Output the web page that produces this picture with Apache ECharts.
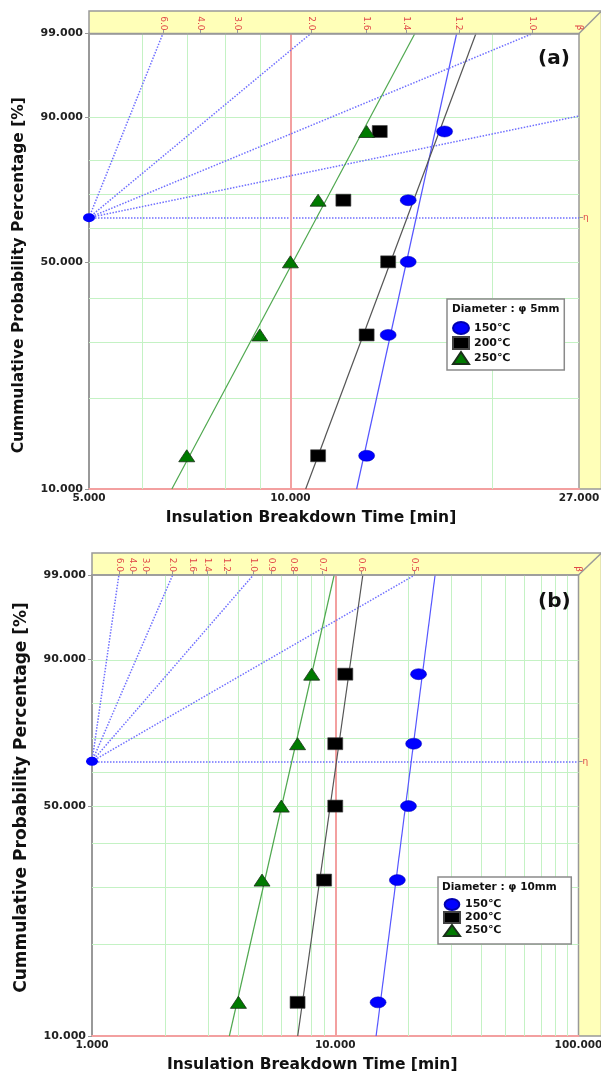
<!DOCTYPE html>
<html><head><meta charset="utf-8">
<script src="https://cdn.jsdelivr.net/npm/echarts@6/dist/echarts.min.js"></script>
<style>html,body{margin:0;padding:0;background:#fff}#c{width:601px;height:1081px}</style>
</head><body><div id="c"></div>
<script>
// ---------------- data ----------------
const ranks = [12.96, 31.48, 50.0, 68.52, 87.04];      // median ranks, %
const tempLabels = ['150℃', '200℃', '250℃'];
// panel (a)  φ 5 mm
const a150 = [13.0, 14.0, 15.0, 15.0, 17.0];
const a200 = [11.0, 13.0, 14.0, 12.0, 13.6];
const a250 = [7.0, 9.0, 10.0, 11.0, 13.0];
const aFit150 = [12.56, 17.72];   // time at 10 % and 99 %
const aFit200 = [10.54, 18.94];
const aFit250 = [6.65, 15.35];
// panel (b)  φ 10 mm
const b150 = [15.0, 18.0, 20.0, 21.0, 22.0];
const b200 = [7.0, 9.0, 10.0, 10.0, 11.0];
const b250 = [4.0, 5.0, 6.0, 7.0, 8.0];
const bFit150 = [14.72, 25.73];
const bFit200 = [7.01, 12.98];
const bFit250 = [3.67, 9.9];
const fitF = [10, 99];
// axes
const xTicksA = [5, 10, 27];
const xTicksB = [1, 10, 100];
const xGridA = [6, 7, 8, 9, 20];
const xGridB = [2, 3, 4, 5, 6, 7, 8, 9, 20, 30, 40, 50, 60, 70, 80, 90];
const yTicks = [10, 50, 90, 99];
const yGrid = [20, 30, 40, 50, 60, 70, 80, 90];
const betaTicks = [6.0, 4.0, 3.0, 2.0, 1.6, 1.4, 1.2, 1.0, 0.9, 0.8, 0.7, 0.6, 0.5];
const betaLines = [6.0, 2.0, 1.0, 0.5];
const refTime = 10;
const legendTitles = ['Diameter : φ 5mm', 'Diameter : φ 10mm'];
const panelTags = ['(a)', '(b)'];

// ---------------- helpers ----------------
const FONT = 'DejaVu Sans';
const Wb = F => Math.log(-Math.log(1 - F / 100));
const Finv = v => 100 * (1 - Math.exp(-Math.exp(v)));
const Y_TOP = Wb(99), Y_BOT = Wb(10);
const GREEN = '#c4f2c4', RED = '#f3a0a0', DOT = '#6f6fff', FRAME = '#999999', YEL = '#ffffb8';
const ELLIPSE = 'path://M0,6A8,6 0 1,0 16,6A8,6 0 1,0 0,6Z';
const mk = [
  {symbol: ELLIPSE, size: [16, 11], item: {color: '#0000ff', borderColor: '#0000b0', borderWidth: 0.5, opacity: 1}, line: '#5555ff'},
  {symbol: 'rect', size: [15, 12], item: {color: '#000000', borderColor: '#444', borderWidth: 0.6, opacity: 1}, line: '#555555'},
  {symbol: 'triangle', size: [16, 12], item: {color: '#007a00', borderColor: '#1a301a', borderWidth: 0.8, opacity: 1}, line: '#4fa84f'}
];

const panels = [
  {L: 89, T: 33.5, R: 579, B: 489, Tb: 11, xmin: 5, xmax: 27, xticks: xTicksA, xgrid: xGridA,
   vals: [a150, a200, a250], fits: [aFit150, aFit200, aFit250], tag: 'a',
   legend: {left: 447, top: 299, padding: [22, 54, 5, 5], ih: 12, gap: 1}, ltitle: {left: 452, top: 304},
   ptag: {left: 538, top: 49}, yNamePad: [0, 28, 0, 0], yNameSize: 15.5},
  {L: 92, T: 575, R: 578.5, B: 1036, Tb: 553, xmin: 1, xmax: 100, xticks: xTicksB, xgrid: xGridB,
   vals: [b150, b200, b250], fits: [bFit150, bFit200, bFit250], tag: 'b',
   legend: {left: 438, top: 877, padding: [21, 70, 7, 5], ih: 11, gap: 0}, ltitle: {left: 442, top: 882},
   ptag: {left: 538, top: 592}, yNamePad: [0, 0, 0, 16], yNameSize: 17}
];

const grid = [], xAxis = [], yAxis = [], series = [], legend = [], title = [], graphic = [];

panels.forEach((p, g) => {
  grid.push({left: p.L, top: p.T, width: p.R - p.L, height: p.B - p.T, outerBoundsMode: 'none', containLabel: false});
  const betaPos = betaTicks.map(b => p.xmin * Math.exp(Y_TOP / b)).filter(v => v <= p.xmax * 1.000001);
  xAxis.push({
    gridIndex: g, type: 'log', logBase: 10, min: p.xmin, max: p.xmax, position: 'bottom',
    axisLine: {onZero: false, lineStyle: {color: RED, width: 2}},
    axisTick: {show: false}, splitLine: {show: false}, minorTick: {show: false}, minorSplitLine: {show: false},
    axisLabel: {customValues: p.xticks, formatter: v => Number(v).toFixed(3), fontFamily: FONT, fontWeight: 'bold',
      fontSize: 10.5, color: '#222', margin: 4, hideOverlap: false},
    name: 'Insulation Breakdown Time [min]', nameLocation: 'middle', nameGap: 21, nameMoveOverlap: false,
    nameTextStyle: {fontFamily: FONT, fontWeight: 'bold', fontSize: 15.5, color: '#111', padding: [0, 46, 0, 0]}
  });
  xAxis.push({
    gridIndex: g, type: 'log', logBase: 10, min: p.xmin, max: p.xmax, position: 'top', z: 10,
    axisLine: {onZero: false, lineStyle: {color: FRAME, width: 1.5}},
    axisTick: {show: true, customValues: betaPos, length: 4, lineStyle: {color: FRAME}},
    splitLine: {show: false},
    axisLabel: {customValues: betaPos.concat([p.xmax]), rotate: 90, margin: 3, fontFamily: FONT, fontSize: 9,
      color: '#e04848', hideOverlap: false,
      formatter: v => Math.abs(v - p.xmax) / p.xmax < 1e-6 ? 'β' : (Y_TOP / Math.log(v / p.xmin)).toFixed(1)}
  });
  yAxis.push({
    gridIndex: g, type: 'value', min: Y_BOT, max: Y_TOP, position: 'left',
    axisLine: {show: true, onZero: false, lineStyle: {color: FRAME, width: 2}},
    axisTick: {show: true, customValues: yTicks.map(Wb), length: 4, lineStyle: {color: FRAME}},
    splitLine: {show: false},
    axisLabel: {customValues: yTicks.map(Wb), formatter: v => Finv(v).toFixed(3), fontFamily: FONT, fontWeight: 'bold',
      fontSize: 11, color: '#222', margin: 6, hideOverlap: false},
    name: 'Cummulative Probability Percentage [%]', nameLocation: 'middle', nameGap: 62, nameMoveOverlap: false,
    nameTextStyle: {fontFamily: FONT, fontWeight: 'bold', fontSize: p.yNameSize, color: '#111', padding: p.yNamePad}
  });
  yAxis.push({
    gridIndex: g, type: 'value', min: Y_BOT, max: Y_TOP, position: 'right', z: 10,
    axisLine: {show: false}, splitLine: {show: false},
    axisTick: {show: true, customValues: [0], length: 4, lineStyle: {color: FRAME}},
    axisLabel: {customValues: [0], formatter: () => 'η', fontFamily: FONT, fontSize: 9, color: '#e04848', margin: 4}
  });
  const xi = 2 * g, yi = 2 * g;
  const mlData = [];
  p.xgrid.forEach(v => mlData.push({xAxis: v, lineStyle: {color: GREEN, width: 1, type: 'solid'}}));
  yGrid.forEach(F => mlData.push({yAxis: Wb(F), lineStyle: {color: GREEN, width: 1, type: 'solid'}}));
  mlData.push({yAxis: 0, lineStyle: {color: DOT, width: 1.5, type: [1.5, 1.5]}});
  mlData.push({xAxis: refTime, lineStyle: {color: RED, width: 2, type: 'solid'}});
  series.push({
    type: 'scatter', name: 'pivot' + g, xAxisIndex: xi, yAxisIndex: yi, data: [[p.xmin, 0]], clip: false,
    symbol: ELLIPSE, symbolSize: [12, 9], itemStyle: {color: '#0000ff', opacity: 1}, z: 9, silent: true,
    markLine: {silent: true, symbol: ['none', 'none'], label: {show: false}, animation: false, data: mlData}
  });
  betaLines.forEach(b => {
    let xe = p.xmin * Math.exp(Y_TOP / b), ye = Y_TOP;
    if (xe > p.xmax) { xe = p.xmax; ye = b * Math.log(p.xmax / p.xmin); }
    series.push({type: 'line', name: 'beta' + b + g, xAxisIndex: xi, yAxisIndex: yi, data: [[p.xmin, 0], [xe, ye]],
      showSymbol: false, symbol: 'none', silent: true, z: 6,
      lineStyle: {color: DOT, width: 1.5, type: [1.5, 1.5]}});
  });
  p.vals.forEach((vals, k) => {
    series.push({type: 'line', name: 'fit' + k + g, xAxisIndex: xi, yAxisIndex: yi,
      data: fitF.map((F, i) => [p.fits[k][i], Wb(F)]), showSymbol: false, symbol: 'none', silent: true, z: 7,
      lineStyle: {color: mk[k].line, width: 1.2}});
  });
  p.vals.forEach((vals, k) => {
    series.push({type: 'scatter', name: tempLabels[k] + '|' + p.tag, xAxisIndex: xi, yAxisIndex: yi, clip: false,
      data: ranks.map((F, i) => [vals[i], Wb(F)]), symbol: mk[k].symbol, symbolSize: mk[k].size,
      itemStyle: mk[k].item, z: 8});
  });
  legend.push({
    data: tempLabels.map(t => t + '|' + p.tag), orient: 'vertical', left: p.legend.left, top: p.legend.top,
    padding: p.legend.padding, itemWidth: 16, itemHeight: p.legend.ih, itemGap: p.legend.gap, selectedMode: false,
    backgroundColor: '#fff', borderColor: '#8a8a8a', borderWidth: 1.5, z: 15,
    formatter: n => n.split('|')[0],
    textStyle: {fontFamily: FONT, fontWeight: 'bold', fontSize: 11, color: '#111'}
  });
  title.push({text: legendTitles[g], left: p.ltitle.left, top: p.ltitle.top, padding: 0, z: 20,
    textStyle: {fontFamily: FONT, fontWeight: 'bold', fontSize: 10.5, color: '#111'}});
  title.push({text: panelTags[g], left: p.ptag.left, top: p.ptag.top, padding: 0, z: 20,
    textStyle: {fontFamily: FONT, fontWeight: 'bold', fontSize: 20, color: '#111'}});
  graphic.push({type: 'polygon', silent: true, z: 0,
    shape: {points: [[p.L, p.Tb], [601.5, p.Tb], [601.5, p.B], [p.R, p.B], [p.R, p.T], [p.L, p.T]]},
    style: {fill: YEL, stroke: FRAME, lineWidth: 1.5}});
  graphic.push({type: 'line', silent: true, z: 0,
    shape: {x1: p.R, y1: p.T, x2: 601.5, y2: p.Tb}, style: {stroke: FRAME, lineWidth: 1.5}});
});

const chart = echarts.init(document.getElementById('c'), null, {renderer: 'canvas'});
chart.setOption({
  animation: false, backgroundColor: '#fff',
  grid, xAxis, yAxis, series, legend, title, graphic
});
</script></body></html>
